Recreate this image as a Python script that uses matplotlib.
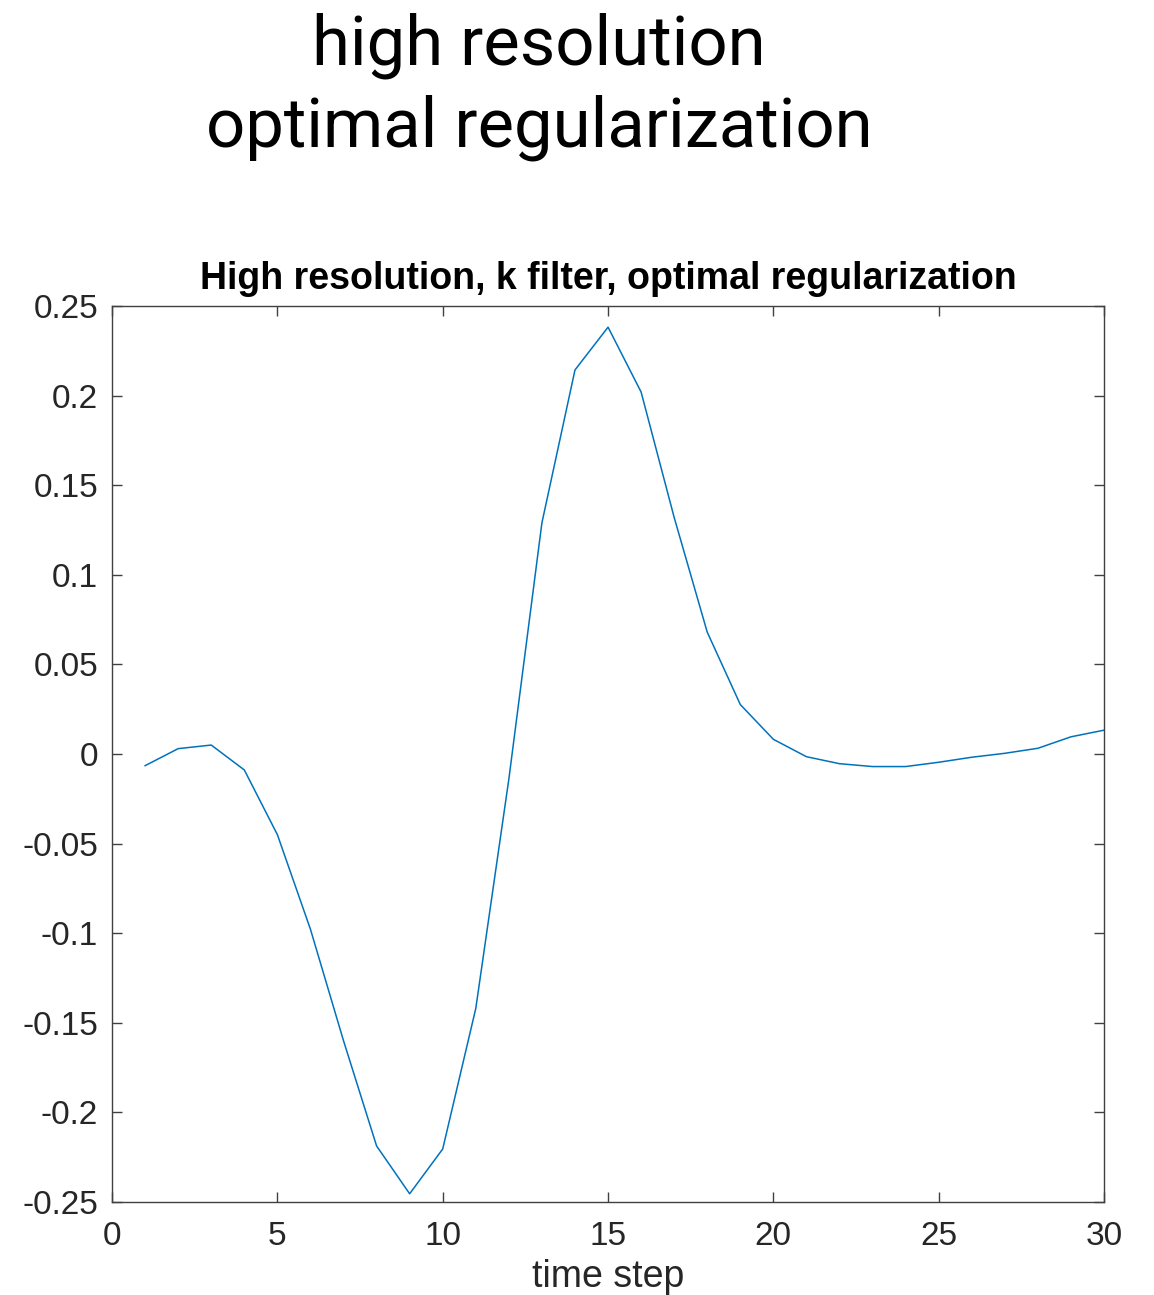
import numpy as np
import matplotlib.pyplot as plt

plt.rcParams["font.family"] = ["Liberation Sans", "DejaVu Sans"]

# filter coefficients per time step
time_step = np.arange(1, 31)
k_filter = [
    -0.0065, 0.0030, 0.0050, -0.0089, -0.0450, -0.0978, -0.1600, -0.2187, -0.2454, -0.2204,
    -0.1420, -0.0140, 0.1290, 0.2143, 0.2382, 0.2020, 0.1320, 0.0680, 0.0276, 0.0082,
    -0.0015, -0.0054, -0.0070, -0.0070, -0.0046, -0.0018, 0.0004, 0.0032, 0.0096, 0.0133,
]
xticks = [0, 5, 10, 15, 20, 25, 30]
yticks = [-0.25, -0.2, -0.15, -0.1, -0.05, 0, 0.05, 0.1, 0.15, 0.2, 0.25]
ytick_labels = ["-0.25", "-0.2", "-0.15", "-0.1", "-0.05", "0", "0.05", "0.1", "0.15", "0.2", "0.25"]
heading = ["high resolution", "optimal regularization"]

fig = plt.figure(figsize=(11.54, 12.95), dpi=100)
for line, ybase in zip(heading, [0.9505, 0.8870]):
    fig.text(0.467, ybase, line, ha="center", va="baseline",
             fontsize=49.5, fontfamily="Roboto", fontweight="normal", color="black")

ax = fig.add_axes([0.0971, 0.0718, 0.8596, 0.6919])
ax.plot(time_step, k_filter, color="#0072BD", linewidth=1.1)

ax.set_xlim(0, 30)
ax.set_ylim(-0.25, 0.25)
ax.set_xticks(xticks)
ax.set_yticks(yticks)
ax.set_yticklabels(ytick_labels)
ax.tick_params(direction="in", length=7, width=1.0, color="#404040", labelcolor="#262626",
               labelsize=24, top=True, right=True)
ax.tick_params(axis="x", pad=14)
ax.tick_params(axis="y", pad=10)
for s in ax.spines.values():
    s.set_color("#404040")
    s.set_linewidth(1.0)

ax.set_title("High resolution, k filter, optimal regularization", fontsize=27, fontweight="bold", pad=12)
ax.set_xlabel("time step", fontsize=27, color="#262626", labelpad=5)

fig.savefig("out.png", dpi=100)
